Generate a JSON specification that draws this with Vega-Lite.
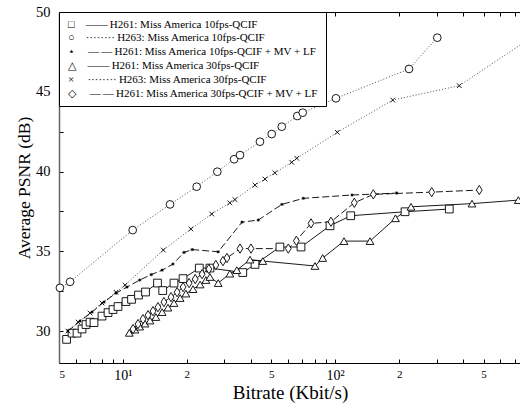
{
  "$schema": "https://vega.github.io/schema/vega-lite/v6.json",
  "width": 462,
  "height": 351,
  "autosize": {"type": "none"},
  "padding": {"left": 59, "top": 12, "right": 0, "bottom": 45},
  "background": "white",
  "title": {"text": "compare-h263-h261-avepsnr-v-bitrate.plt", "anchor": "end", "fontSize": 4, "offset": 4, "dx": -8, "color": "#444", "font": "Liberation Sans", "fontWeight": "normal"},
  "config": {
    "font": "Liberation Serif",
    "view": {"stroke": "black", "strokeWidth": 1},
    "axis": {"grid": false, "tickColor": "black", "domainColor": "black", "labelColor": "black", "titleColor": "black", "titleFontWeight": "normal", "labelFont": "Liberation Serif", "titleFont": "Liberation Serif"}
  },
  "data": {"values": [
    {"s": "H261: Miss America 10fps-QCIF", "x": 5.43, "y": 29.48},
    {"s": "H261: Miss America 10fps-QCIF", "x": 5.76, "y": 29.87},
    {"s": "H261: Miss America 10fps-QCIF", "x": 6.08, "y": 29.87},
    {"s": "H261: Miss America 10fps-QCIF", "x": 6.42, "y": 30.13},
    {"s": "H261: Miss America 10fps-QCIF", "x": 6.70, "y": 30.41},
    {"s": "H261: Miss America 10fps-QCIF", "x": 7.0, "y": 30.56},
    {"s": "H261: Miss America 10fps-QCIF", "x": 7.31, "y": 30.53},
    {"s": "H261: Miss America 10fps-QCIF", "x": 7.97, "y": 30.94},
    {"s": "H261: Miss America 10fps-QCIF", "x": 8.51, "y": 31.16},
    {"s": "H261: Miss America 10fps-QCIF", "x": 8.98, "y": 31.35},
    {"s": "H261: Miss America 10fps-QCIF", "x": 9.48, "y": 31.54},
    {"s": "H261: Miss America 10fps-QCIF", "x": 10.34, "y": 31.85},
    {"s": "H261: Miss America 10fps-QCIF", "x": 10.98, "y": 31.99},
    {"s": "H261: Miss America 10fps-QCIF", "x": 11.84, "y": 32.26},
    {"s": "H261: Miss America 10fps-QCIF", "x": 12.78, "y": 32.45},
    {"s": "H261: Miss America 10fps-QCIF", "x": 14.55, "y": 33.01},
    {"s": "H261: Miss America 10fps-QCIF", "x": 15.4, "y": 32.54},
    {"s": "H261: Miss America 10fps-QCIF", "x": 17.4, "y": 33.01},
    {"s": "H261: Miss America 10fps-QCIF", "x": 19.2, "y": 33.29},
    {"s": "H261: Miss America 10fps-QCIF", "x": 22.9, "y": 33.95},
    {"s": "H261: Miss America 10fps-QCIF", "x": 25.7, "y": 33.95},
    {"s": "H261: Miss America 10fps-QCIF", "x": 36.7, "y": 33.67},
    {"s": "H261: Miss America 10fps-QCIF", "x": 41.9, "y": 34.18},
    {"s": "H261: Miss America 10fps-QCIF", "x": 54.9, "y": 35.27},
    {"s": "H261: Miss America 10fps-QCIF", "x": 69.0, "y": 35.27},
    {"s": "H261: Miss America 10fps-QCIF", "x": 94.5, "y": 36.6},
    {"s": "H261: Miss America 10fps-QCIF", "x": 118.3, "y": 37.23},
    {"s": "H261: Miss America 10fps-QCIF", "x": 213.2, "y": 37.48},
    {"s": "H261: Miss America 10fps-QCIF", "x": 344.6, "y": 37.65},

    {"s": "H263: Miss America 10fps-QCIF", "x": 5.05, "y": 32.71},
    {"s": "H263: Miss America 10fps-QCIF", "x": 5.64, "y": 33.09},
    {"s": "H263: Miss America 10fps-QCIF", "x": 11.12, "y": 36.33},
    {"s": "H263: Miss America 10fps-QCIF", "x": 16.67, "y": 37.94},
    {"s": "H263: Miss America 10fps-QCIF", "x": 22.26, "y": 39.05},
    {"s": "H263: Miss America 10fps-QCIF", "x": 27.84, "y": 39.99},
    {"s": "H263: Miss America 10fps-QCIF", "x": 33.4, "y": 40.77},
    {"s": "H263: Miss America 10fps-QCIF", "x": 35.6, "y": 41.03},
    {"s": "H263: Miss America 10fps-QCIF", "x": 44.2, "y": 41.87},
    {"s": "H263: Miss America 10fps-QCIF", "x": 50.2, "y": 42.35},
    {"s": "H263: Miss America 10fps-QCIF", "x": 56.0, "y": 42.81},
    {"s": "H263: Miss America 10fps-QCIF", "x": 66.3, "y": 43.48},
    {"s": "H263: Miss America 10fps-QCIF", "x": 70.3, "y": 43.69},
    {"s": "H263: Miss America 10fps-QCIF", "x": 100.8, "y": 44.59},
    {"s": "H263: Miss America 10fps-QCIF", "x": 222.6, "y": 46.43},
    {"s": "H263: Miss America 10fps-QCIF", "x": 302.5, "y": 48.39},

    {"s": "H261: Miss America 10fps-QCIF + MV + LF", "x": 5.51, "y": 30.0},
    {"s": "H261: Miss America 10fps-QCIF + MV + LF", "x": 6.28, "y": 30.63},
    {"s": "H261: Miss America 10fps-QCIF + MV + LF", "x": 7.15, "y": 31.19},
    {"s": "H261: Miss America 10fps-QCIF + MV + LF", "x": 8.15, "y": 31.82},
    {"s": "H261: Miss America 10fps-QCIF + MV + LF", "x": 9.28, "y": 32.38},
    {"s": "H261: Miss America 10fps-QCIF + MV + LF", "x": 10.45, "y": 32.76},
    {"s": "H261: Miss America 10fps-QCIF + MV + LF", "x": 12.0, "y": 33.2},
    {"s": "H261: Miss America 10fps-QCIF + MV + LF", "x": 13.6, "y": 33.54},
    {"s": "H261: Miss America 10fps-QCIF + MV + LF", "x": 15.3, "y": 33.82},
    {"s": "H261: Miss America 10fps-QCIF + MV + LF", "x": 17.2, "y": 34.2},
    {"s": "H261: Miss America 10fps-QCIF + MV + LF", "x": 19.4, "y": 34.93},
    {"s": "H261: Miss America 10fps-QCIF + MV + LF", "x": 21.2, "y": 35.11},
    {"s": "H261: Miss America 10fps-QCIF + MV + LF", "x": 28.1, "y": 34.97},
    {"s": "H261: Miss America 10fps-QCIF + MV + LF", "x": 36.4, "y": 36.83},
    {"s": "H261: Miss America 10fps-QCIF + MV + LF", "x": 43.4, "y": 36.96},
    {"s": "H261: Miss America 10fps-QCIF + MV + LF", "x": 56.1, "y": 37.94},
    {"s": "H261: Miss America 10fps-QCIF + MV + LF", "x": 70.7, "y": 38.32},
    {"s": "H261: Miss America 10fps-QCIF + MV + LF", "x": 120, "y": 38.53},
    {"s": "H261: Miss America 10fps-QCIF + MV + LF", "x": 194.9, "y": 38.65},

    {"s": "H261: Miss America 30fps-QCIF", "x": 10.72, "y": 29.89},
    {"s": "H261: Miss America 30fps-QCIF", "x": 11.4, "y": 30.09},
    {"s": "H261: Miss America 30fps-QCIF", "x": 12.0, "y": 30.28},
    {"s": "H261: Miss America 30fps-QCIF", "x": 12.71, "y": 30.47},
    {"s": "H261: Miss America 30fps-QCIF", "x": 13.42, "y": 30.66},
    {"s": "H261: Miss America 30fps-QCIF", "x": 14.3, "y": 30.88},
    {"s": "H261: Miss America 30fps-QCIF", "x": 15.3, "y": 31.19},
    {"s": "H261: Miss America 30fps-QCIF", "x": 16.3, "y": 31.47},
    {"s": "H261: Miss America 30fps-QCIF", "x": 17.4, "y": 31.76},
    {"s": "H261: Miss America 30fps-QCIF", "x": 18.6, "y": 32.07},
    {"s": "H261: Miss America 30fps-QCIF", "x": 19.8, "y": 32.35},
    {"s": "H261: Miss America 30fps-QCIF", "x": 21.4, "y": 32.63},
    {"s": "H261: Miss America 30fps-QCIF", "x": 23.1, "y": 32.92},
    {"s": "H261: Miss America 30fps-QCIF", "x": 24.6, "y": 33.2},
    {"s": "H261: Miss America 30fps-QCIF", "x": 25.7, "y": 33.39},
    {"s": "H261: Miss America 30fps-QCIF", "x": 28.1, "y": 33.01},
    {"s": "H261: Miss America 30fps-QCIF", "x": 31.9, "y": 33.6},
    {"s": "H261: Miss America 30fps-QCIF", "x": 34.4, "y": 33.82},
    {"s": "H261: Miss America 30fps-QCIF", "x": 39.7, "y": 34.48},
    {"s": "H261: Miss America 30fps-QCIF", "x": 45.6, "y": 34.39},
    {"s": "H261: Miss America 30fps-QCIF", "x": 80.3, "y": 34.08},
    {"s": "H261: Miss America 30fps-QCIF", "x": 87.3, "y": 34.58},
    {"s": "H261: Miss America 30fps-QCIF", "x": 110, "y": 35.64},
    {"s": "H261: Miss America 30fps-QCIF", "x": 145.8, "y": 35.64},
    {"s": "H261: Miss America 30fps-QCIF", "x": 192.3, "y": 37.07},
    {"s": "H261: Miss America 30fps-QCIF", "x": 227.5, "y": 37.79},
    {"s": "H261: Miss America 30fps-QCIF", "x": 440.9, "y": 37.99},
    {"s": "H261: Miss America 30fps-QCIF", "x": 728.5, "y": 38.21},

    {"s": "H263: Miss America 30fps-QCIF", "x": 5.51, "y": 30.0},
    {"s": "H263: Miss America 30fps-QCIF", "x": 6.15, "y": 30.56},
    {"s": "H263: Miss America 30fps-QCIF", "x": 7.0, "y": 31.13},
    {"s": "H263: Miss America 30fps-QCIF", "x": 7.97, "y": 31.76},
    {"s": "H263: Miss America 30fps-QCIF", "x": 9.28, "y": 32.43},
    {"s": "H263: Miss America 30fps-QCIF", "x": 10.23, "y": 32.88},
    {"s": "H263: Miss America 30fps-QCIF", "x": 15.5, "y": 35.08},
    {"s": "H263: Miss America 30fps-QCIF", "x": 20.9, "y": 36.4},
    {"s": "H263: Miss America 30fps-QCIF", "x": 26.2, "y": 37.34},
    {"s": "H263: Miss America 30fps-QCIF", "x": 31.9, "y": 38.04},
    {"s": "H263: Miss America 30fps-QCIF", "x": 33.7, "y": 38.24},
    {"s": "H263: Miss America 30fps-QCIF", "x": 41.9, "y": 39.15},
    {"s": "H263: Miss America 30fps-QCIF", "x": 46.7, "y": 39.53},
    {"s": "H263: Miss America 30fps-QCIF", "x": 52.0, "y": 39.92},
    {"s": "H263: Miss America 30fps-QCIF", "x": 62.4, "y": 40.58},
    {"s": "H263: Miss America 30fps-QCIF", "x": 65.9, "y": 40.83},
    {"s": "H263: Miss America 30fps-QCIF", "x": 102.3, "y": 42.46},
    {"s": "H263: Miss America 30fps-QCIF", "x": 186.6, "y": 44.48},
    {"s": "H263: Miss America 30fps-QCIF", "x": 384, "y": 45.38},
    {"s": "H263: Miss America 30fps-QCIF", "x": 1000, "y": 49.08},

    {"s": "H261: Miss America 30fps-QCIF + MV + LF", "x": 11.16, "y": 30.13},
    {"s": "H261: Miss America 30fps-QCIF + MV + LF", "x": 11.78, "y": 30.44},
    {"s": "H261: Miss America 30fps-QCIF + MV + LF", "x": 12.43, "y": 30.75},
    {"s": "H261: Miss America 30fps-QCIF + MV + LF", "x": 13.13, "y": 31.0},
    {"s": "H261: Miss America 30fps-QCIF + MV + LF", "x": 13.86, "y": 31.25},
    {"s": "H261: Miss America 30fps-QCIF + MV + LF", "x": 14.63, "y": 31.5},
    {"s": "H261: Miss America 30fps-QCIF + MV + LF", "x": 15.6, "y": 31.82},
    {"s": "H261: Miss America 30fps-QCIF + MV + LF", "x": 16.85, "y": 32.13},
    {"s": "H261: Miss America 30fps-QCIF + MV + LF", "x": 18.0, "y": 32.44},
    {"s": "H261: Miss America 30fps-QCIF + MV + LF", "x": 19.2, "y": 32.76},
    {"s": "H261: Miss America 30fps-QCIF + MV + LF", "x": 20.5, "y": 33.01},
    {"s": "H261: Miss America 30fps-QCIF + MV + LF", "x": 21.9, "y": 33.26},
    {"s": "H261: Miss America 30fps-QCIF + MV + LF", "x": 23.6, "y": 33.57},
    {"s": "H261: Miss America 30fps-QCIF + MV + LF", "x": 25.4, "y": 33.89},
    {"s": "H261: Miss America 30fps-QCIF + MV + LF", "x": 27.4, "y": 34.14},
    {"s": "H261: Miss America 30fps-QCIF + MV + LF", "x": 29.6, "y": 34.39},
    {"s": "H261: Miss America 30fps-QCIF + MV + LF", "x": 30.9, "y": 34.58},
    {"s": "H261: Miss America 30fps-QCIF + MV + LF", "x": 35.6, "y": 35.17},
    {"s": "H261: Miss America 30fps-QCIF + MV + LF", "x": 40.1, "y": 35.17},
    {"s": "H261: Miss America 30fps-QCIF + MV + LF", "x": 60.1, "y": 35.17},
    {"s": "H261: Miss America 30fps-QCIF + MV + LF", "x": 65.6, "y": 35.66},
    {"s": "H261: Miss America 30fps-QCIF + MV + LF", "x": 76.9, "y": 36.75},
    {"s": "H261: Miss America 30fps-QCIF + MV + LF", "x": 95.5, "y": 36.85},
    {"s": "H261: Miss America 30fps-QCIF + MV + LF", "x": 123, "y": 38.04},
    {"s": "H261: Miss America 30fps-QCIF + MV + LF", "x": 151.2, "y": 38.57},
    {"s": "H261: Miss America 30fps-QCIF + MV + LF", "x": 284.7, "y": 38.71},
    {"s": "H261: Miss America 30fps-QCIF + MV + LF", "x": 477.1, "y": 38.84}
  ]},
  "layer": [
    {
      "transform": [{"filter": {"field": "s", "oneOf": ["H261: Miss America 10fps-QCIF", "H261: Miss America 30fps-QCIF"]}}],
      "mark": {"type": "line", "clip": true, "color": "black", "strokeWidth": 0.9},
      "encoding": {
        "x": {"field": "x", "type": "quantitative", "scale": {"type": "log", "domain": [5, 750], "nice": false},
              "axis": {"orient": "top", "title": null, "labels": false, "domain": false, "tickSize": -4, "values": [5,6,7,8,9,10,20,30,40,50,60,70,80,90,100,200,300,400,500,600,700]}},
        "y": {"field": "y", "type": "quantitative", "scale": {"domain": [28, 50], "nice": false, "zero": false},
              "axis": {"title": "Average PSNR (dB)", "titleFontSize": 17.5, "titlePadding": 2, "values": [30,32.5,35,37.5,40,42.5,45,47.5,50],
                       "labelExpr": "datum.value % 5 == 0 ? datum.label : ''", "labelFontSize": 14.5, "tickSize": -4, "labelPadding": 13, "domainColor": "#666", "domainWidth": 1.5}},
        "detail": {"field": "s", "type": "nominal"}
      }
    },
    {
      "transform": [{"filter": {"field": "s", "oneOf": ["H263: Miss America 10fps-QCIF", "H263: Miss America 30fps-QCIF"]}}],
      "mark": {"type": "line", "clip": true, "color": "#222", "strokeWidth": 0.8, "strokeDash": [1, 2]},
      "encoding": {
        "x": {"field": "x", "type": "quantitative", "axis": null},
        "y": {"field": "y", "type": "quantitative"},
        "detail": {"field": "s", "type": "nominal"}
      }
    },
    {
      "transform": [{"filter": {"field": "s", "oneOf": ["H261: Miss America 10fps-QCIF + MV + LF", "H261: Miss America 30fps-QCIF + MV + LF"]}}],
      "mark": {"type": "line", "clip": true, "color": "black", "strokeWidth": 0.9, "strokeDash": [7, 3]},
      "encoding": {
        "x": {"field": "x", "type": "quantitative", "axis": null},
        "y": {"field": "y", "type": "quantitative"},
        "detail": {"field": "s", "type": "nominal"}
      }
    },
    {
      "mark": {"type": "point", "clip": false, "filled": false, "fill": "white", "fillOpacity": 1, "color": "black", "stroke": "black", "strokeWidth": 0.9, "size": 60},
      "encoding": {
        "x": {"field": "x", "type": "quantitative",
              "axis": {"orient": "bottom", "title": "Bitrate (Kbit/s)", "titleFontSize": 19, "titlePadding": 1, "domain": false, "tickSize": -4, "labelPadding": 9,
                       "values": [5,6,7,8,9,10,20,30,40,50,60,70,80,90,100,200,300,400,500,600,700],
                       "labelExpr": "datum.value == 10 ? '10¹' : datum.value == 100 ? '10²' : (datum.value == 5 || datum.value == 50 || datum.value == 500) ? '5' : (datum.value == 20 || datum.value == 200) ? '2' : ''",
                       "labelFontSize": {"condition": {"test": "datum.value == 10 || datum.value == 100", "value": 14}, "value": 11}}},
        "y": {"field": "y", "type": "quantitative"},
        "shape": {"field": "s", "type": "nominal",
                  "scale": {"domain": ["H261: Miss America 10fps-QCIF", "H263: Miss America 10fps-QCIF", "H261: Miss America 10fps-QCIF + MV + LF", "H261: Miss America 30fps-QCIF", "H263: Miss America 30fps-QCIF", "H261: Miss America 30fps-QCIF + MV + LF"],
                            "range": ["square", "circle", "M-0.4,0H0.4M0,-0.4V0.4M-0.28,-0.28L0.28,0.28M-0.28,0.28L0.28,-0.28", "triangle-up", "M-0.6,-0.6L0.6,0.6M-0.6,0.6L0.6,-0.6", "M0,-1.2L0.75,0L0,1.2L-0.75,0Z"]},
                  "legend": {"title": null, "orient": "top-left", "offset": 0, "padding": 7, "strokeColor": "black", "fillColor": "white",
                             "labelFontSize": 11, "labelFont": "Liberation Serif, DejaVu Sans", "labelColor": "black", "symbolSize": 0, "symbolOpacity": 0, "labelOffset": -9, "rowPadding": 1.8, "labelLimit": 400,
                             "labelExpr": "(datum.value == 'H261: Miss America 10fps-QCIF' ? '\u25a1\u2002\u2002\u2014\u2014\u2009' : datum.value == 'H263: Miss America 10fps-QCIF' ? '\u25cb\u2002\u2002\u00b7\u00b7\u00b7\u00b7\u00b7\u00b7\u00b7\u00b7\u2009' : datum.value == 'H261: Miss America 10fps-QCIF + MV + LF' ? '\u22c6\u2002\u2002\u2009\u2014\u2009\u2014\u2009' : datum.value == 'H261: Miss America 30fps-QCIF' ? '\u25b3\u2002\u2002\u2014\u2014\u2009' : datum.value == 'H263: Miss America 30fps-QCIF' ? '\u00d7\u2002\u2002\u2009\u00b7\u00b7\u00b7\u00b7\u00b7\u00b7\u00b7\u00b7\u2009' : '\u25c7\u2002\u2002\u2009\u2014\u2009\u2014\u2009') + datum.label"}}
      }
    }
  ],
  "resolve": {"axis": {"x": "independent"}}
}
